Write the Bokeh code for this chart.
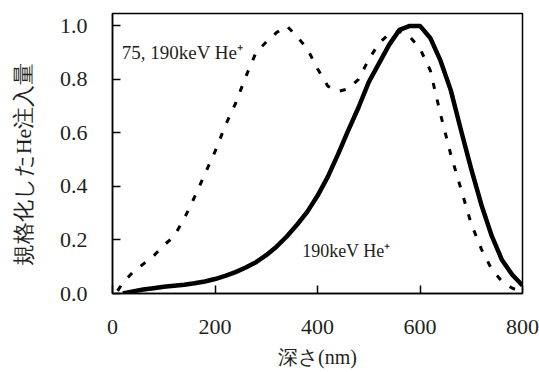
from bokeh.plotting import figure
from bokeh.models import Range1d, Label, FixedTicker
from bokeh.embed import file_html
from bokeh.resources import INLINE

# depth (nm)
depth = [10, 20, 40, 60, 80, 100, 120, 140, 160, 180, 200, 220, 240, 260, 280,
         300, 320, 340, 360, 380, 400, 420, 440, 460, 480, 500, 520, 540, 560,
         580, 600, 620, 640, 660, 680, 700, 720, 740, 760, 780, 800]

# 190keV He+ (solid)
single_190 = [None, 0.0, 0.008, 0.015, 0.02, 0.025, 0.029, 0.033, 0.038, 0.045,
              0.054, 0.066, 0.08, 0.097, 0.117, 0.143, 0.175, 0.213, 0.257,
              0.305, 0.365, 0.436, 0.52, 0.61, 0.695, 0.79, 0.86, 0.93, 0.985,
              1.0, 1.0, 0.955, 0.87, 0.76, 0.61, 0.465, 0.33, 0.215, 0.125,
              0.07, 0.03]

# 75, 190keV He+ (dashed)
dual_75_190 = [0.01, 0.04, 0.08, 0.11, 0.14, 0.18, 0.213, 0.28, 0.36, 0.445,
               0.53, 0.627, 0.71, 0.81, 0.9, 0.94, 0.975, 1.0, 0.96, 0.915,
               0.84, 0.775, 0.755, 0.765, 0.80, 0.875, 0.935, 0.97, 0.98,
               0.96, 0.915, 0.834, 0.67, 0.52, 0.39, 0.26, 0.165, 0.09, 0.045,
               0.02, 0.005]

x_ticks = [0, 200, 400, 600, 800]
y_ticks = [0.0, 0.2, 0.4, 0.6, 0.8, 1.0]
y_tick_labels = {0.0: "0.0", 0.2: "0.2", 0.4: "0.4", 0.6: "0.6", 0.8: "0.8", 1.0: "1.0"}

SERIF = "serif"
TEXT_COLOR = "#231f20"

p = figure(width=539, height=372, output_backend="svg", toolbar_location=None,
           x_range=Range1d(0, 800), y_range=Range1d(0, 1.0463),
           min_border_left=112, min_border_right=17, min_border_top=13,
           min_border_bottom=79)
p.background_fill_color = "white"
p.border_fill_color = "white"
p.outline_line_color = "black"
p.outline_line_width = 1.5
p.grid.visible = False

p.line([d for d, v in zip(depth, single_190) if v is not None],
       [v for v in single_190 if v is not None],
       line_color="black", line_width=4.5, line_join="round")
p.line(depth, dual_75_190, line_color="black", line_width=3,
       line_dash="6 11")

for ax in (p.xaxis[0], p.yaxis[0]):
    ax.axis_line_color = "black"
    ax.axis_line_width = 1.5
    ax.major_tick_in = 8
    ax.major_tick_out = 0
    ax.minor_tick_in = 0
    ax.minor_tick_out = 0
    ax.major_tick_line_color = "black"
    ax.major_tick_line_width = 1.5
    ax.major_label_text_font = SERIF
    ax.major_label_text_font_size = "22px"
    ax.major_label_text_color = TEXT_COLOR

p.xaxis.ticker = FixedTicker(ticks=x_ticks)
p.yaxis.ticker = FixedTicker(ticks=y_ticks)
p.yaxis.major_label_overrides = y_tick_labels
p.xaxis.major_label_standoff = 26
p.yaxis.major_label_standoff = 25

p.xaxis.axis_label = "深さ(nm)"
p.xaxis.axis_label_text_font = SERIF
p.xaxis.axis_label_text_font_size = "20px"
p.xaxis.axis_label_text_font_style = "normal"
p.xaxis.axis_label_text_color = TEXT_COLOR
p.xaxis.axis_label_standoff = 9

p.yaxis.axis_label = "規格化したHe注入量\u3000"
p.yaxis.axis_label_text_font = SERIF
p.yaxis.axis_label_text_font_size = "22px"
p.yaxis.axis_label_text_font_style = "normal"
p.yaxis.axis_label_text_color = TEXT_COLOR
p.yaxis.axis_label_standoff = 21

lab1 = Label(x=18, y=0.9, text="75, 190keV He\u207a", text_align="left",
             text_baseline="middle", text_font=SERIF,
             text_font_size="19px", text_color=TEXT_COLOR)
lab2 = Label(x=370, y=0.16, text="190keV He\u207a", text_align="left",
             text_baseline="middle", text_font=SERIF,
             text_font_size="18px", text_color=TEXT_COLOR)
p.add_layout(lab1)
p.add_layout(lab2)

open("out.html", "w").write(file_html(p, INLINE))
